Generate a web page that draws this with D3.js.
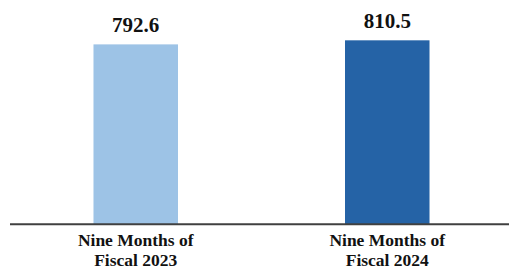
<!DOCTYPE html>
<html>
<head>
<meta charset="utf-8">
<script src="https://cdn.jsdelivr.net/npm/d3@7"></script>
<style>
  html, body { margin: 0; padding: 0; background: #fff; }
  svg { display: block; }
</style>
</head>
<body>
<svg id="chart" width="509" height="270"></svg>
<script>
const categories = [["Nine Months of", "Fiscal 2023"], ["Nine Months of", "Fiscal 2024"]];
const values = [792.6, 810.5];
const valueLabels = ["792.6", "810.5"];
const barColors = ["#9DC3E6", "#2563A6"];

const svg = d3.select("#chart");
const baseY = 224.3;

const x = d3.scaleBand()
  .domain(d3.range(categories.length))
  .range([12, 511])
  .paddingInner(0.664)
  .paddingOuter(0.324);

const y = d3.scaleLinear().domain([0, 900]).range([baseY, 20]);

svg.selectAll("rect.bar")
  .data(values)
  .enter().append("rect")
  .attr("class", "bar")
  .attr("x", (d, i) => x(i))
  .attr("width", x.bandwidth())
  .attr("y", d => y(d))
  .attr("height", d => baseY - y(d))
  .attr("fill", (d, i) => barColors[i]);

svg.append("line")
  .attr("x1", 10).attr("x2", 509)
  .attr("y1", baseY).attr("y2", baseY)
  .attr("stroke", "#404040")
  .attr("stroke-width", 2);

svg.selectAll("text.val")
  .data(values)
  .enter().append("text")
  .attr("class", "val")
  .attr("x", (d, i) => x(i) + x.bandwidth() / 2)
  .attr("y", d => y(d) - 12)
  .attr("text-anchor", "middle")
  .attr("font-family", "'Liberation Serif', 'Times New Roman', serif")
  .attr("font-weight", "bold")
  .attr("font-size", "21px")
  .attr("fill", "#111")
  .text((d, i) => valueLabels[i]);

const lab = svg.selectAll("text.cat")
  .data(categories)
  .enter().append("text")
  .attr("class", "cat")
  .attr("text-anchor", "middle")
  .attr("font-family", "'Liberation Serif', 'Times New Roman', serif")
  .attr("font-weight", "bold")
  .attr("font-size", "17.5px")
  .attr("fill", "#111");

lab.each(function(d, i) {
  const cx = x(i) + x.bandwidth() / 2;
  d3.select(this).selectAll("tspan")
    .data(d)
    .enter().append("tspan")
    .attr("x", cx)
    .attr("y", (t, j) => 246 + j * 19.5)
    .text(t => t);
});
</script>
</body>
</html>
